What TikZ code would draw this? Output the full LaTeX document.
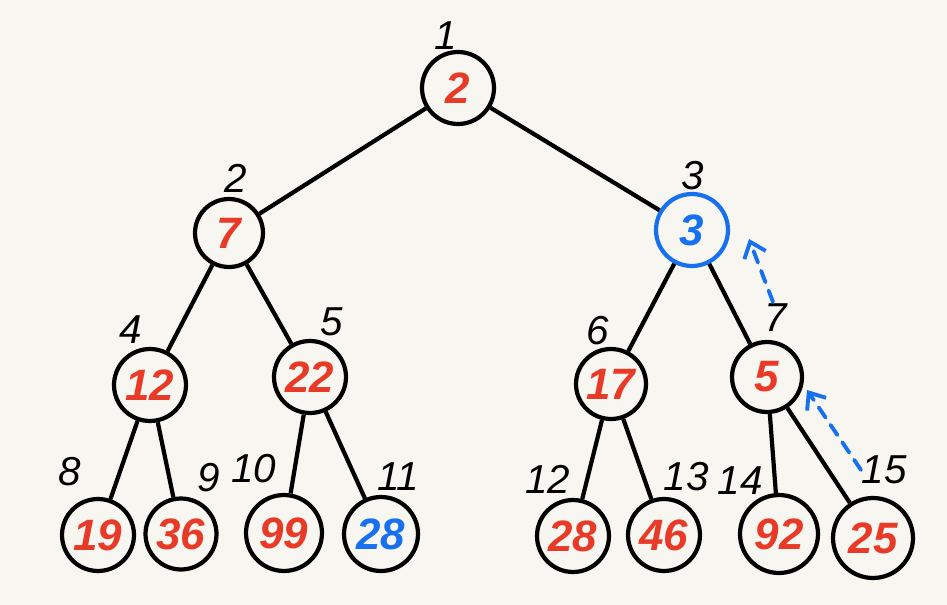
\documentclass[tikz,border=0pt]{standalone}
\usepackage{fontspec}
\setmainfont{Liberation Sans}
\usetikzlibrary{arrows.meta}
\definecolor{paper}{RGB}{248,246,241}
\definecolor{inkred}{RGB}{232,58,38}
\definecolor{inkblue}{RGB}{22,112,240}
\begin{document}
\begin{tikzpicture}[x=0.02cm,y=-0.02cm,
  heapnode/.style={circle,draw=black,line width=2.4pt,minimum size=1.44cm,inner sep=0pt,
    font=\fontsize{25}{25}\selectfont\bfseries\itshape,text=inkred},
  hot/.style={draw=inkblue,text=inkblue},
  hottext/.style={text=inkblue},
  idx/.style={font=\fontsize{23}{23}\selectfont\itshape,text=black,inner sep=0pt},
  link/.style={line width=2.4pt,black},
  swap/.style={inkblue,line width=2.2pt,dash pattern=on 7pt off 5pt,line cap=round,
    -{Straight Barb[length=8pt,width=13pt,line width=2.2pt]}}]
% paper
\fill[paper] (0,0) rectangle (947,605);
\useasboundingbox (0,0) rectangle (947,605);

% heap nodes
\node[heapnode] (n1) at (458,88) {2};
\node[heapnode,minimum size=1.36cm] (n2) at (229,233) {7};
\node[heapnode,hot] (n3) at (692,230) {3};
\node[heapnode] (n4) at (150,385) {12};
\node[heapnode] (n5) at (310,377) {22};
\node[heapnode,minimum size=1.40cm] (n6) at (611,384) {17};
\node[heapnode,minimum size=1.40cm] (n7) at (767,377) {5};
\node[heapnode] (n8) at (98,535) {19};
\node[heapnode,minimum size=1.42cm] (n9) at (181,534) {36};
\node[heapnode,minimum size=1.52cm] (n10) at (284,533) {99};
\node[heapnode,minimum size=1.48cm,hottext] (n11) at (381,534) {28};
\node[heapnode] (n12) at (573,536) {28};
\node[heapnode] (n13) at (664,535) {46};
\node[heapnode,minimum size=1.56cm] (n14) at (779,534) {92};
\node[heapnode,minimum size=1.60cm] (n15) at (873,538) {25};

% tree edges
\draw[link] (n1) -- (n2);
\draw[link] (n1) -- (n3);
\draw[link] (n2) -- (n4);
\draw[link] (n2) -- (n5);
\draw[link] (n3) -- (n6);
\draw[link] (n3) -- (n7);
\draw[link] (n4) -- (n8);
\draw[link] (n4) -- (n9);
\draw[link] (n5) -- (n10);
\draw[link] (n5) -- (n11);
\draw[link] (n6) -- (n12);
\draw[link] (n6) -- (n13);
\draw[link] (n7) -- (n14);
\draw[link] (n7) -- (n15);

% array indices
\node[idx] (i1) at (446,36) {1};
\node[idx] (i2) at (236,178) {2};
\node[idx] (i3) at (693,176) {3};
\node[idx] (i4) at (131,330) {4};
\node[idx] (i5) at (332,322) {5};
\node[idx] (i6) at (598,331) {6};
\node[idx] (i7) at (776,318) {7};
\node[idx] (i8) at (70,472) {8};
\node[idx] (i9) at (209,478) {9};
\node[idx] (i10) at (254,469) {10};
\node[idx] (i11) at (398,477) {11};
\node[idx] (i12) at (548,479) {12};
\node[idx] (i13) at (686,477) {13};
\node[idx] (i14) at (740,481) {14};
\node[idx] (i15) at (884,470) {15};

% sift-up moves
\coordinate (s1) at (861,470);
\coordinate (e1) at (807,390);
\coordinate (s2) at (773,302);
\coordinate (e2) at (749,239);
\draw[swap] (s1) -- (e1);
\draw[swap] (s2) -- (e2);
\end{tikzpicture}
\end{document}
